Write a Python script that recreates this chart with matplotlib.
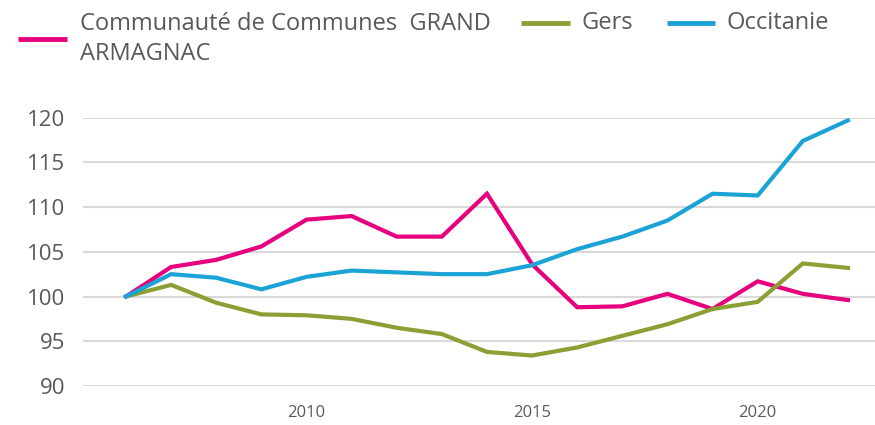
import matplotlib
matplotlib.use("Agg")
import matplotlib.pyplot as plt
from matplotlib.lines import Line2D

plt.rcParams["font.family"] = ["Open Sans", "DejaVu Sans"]

# ── data ──────────────────────────────────────────────────────────────────────
years = list(range(2006, 2023))

cc_grand_armagnac = [100.0, 103.3, 104.1, 105.6, 108.6, 109.0, 106.7, 106.7, 111.5,
                     103.6, 98.8, 98.9, 100.3, 98.6, 101.7, 100.3, 99.6]
gers = [100.0, 101.3, 99.3, 98.0, 97.9, 97.5, 96.5, 95.8, 93.8,
        93.4, 94.3, 95.6, 96.9, 98.6, 99.4, 103.7, 103.2]
occitanie = [100.0, 102.5, 102.1, 100.8, 102.2, 102.9, 102.7, 102.5, 102.5,
             103.5, 105.3, 106.7, 108.5, 111.5, 111.3, 117.4, 119.7]

labels = ["Communauté de Communes  GRAND\nARMAGNAC", "Gers", "Occitanie"]
colors = ["#E6007E", "#8AA034", "#1BA3D6"]

y_ticks = [90, 95, 100, 105, 110, 115, 120]
x_ticks = [2010, 2015, 2020]

TEXT = "#595959"
GRID = "#D9D9D9"

# ── figure ────────────────────────────────────────────────────────────────────
fig = plt.figure(figsize=(8.75, 4.25), dpi=100)
ax = fig.add_axes([0.095, 0.092, 0.905, 0.631])

series = [cc_grand_armagnac, gers, occitanie]
for vals, color, lab in zip(series, colors, labels):
    ax.plot(years, vals, color=color, linewidth=3, label=lab,
            solid_joinstyle="miter", zorder=3)

ax.set_xlim(2005.05, 2022.6)
ax.set_ylim(90, 120)
ax.set_yticks(y_ticks)
ax.set_xticks(x_ticks)
ax.yaxis.grid(True, color=GRID, linewidth=1.5)
ax.set_axisbelow(True)
for s in ax.spines.values():
    s.set_visible(False)
ax.tick_params(axis="y", length=0, pad=13, labelsize=16, labelcolor=TEXT)
ax.tick_params(axis="x", length=0, pad=14, labelsize=12, labelcolor=TEXT)

# ── legend (drawn by hand: first label wraps, others sit on its top line) ─────
# (handle x0, handle x1, handle y, text x, text y) in figure fractions
legend_layout = [
    (0.021, 0.077, 0.909, 0.092, 0.909),
    (0.595, 0.651, 0.946, 0.665, 0.946),
    (0.762, 0.817, 0.946, 0.830, 0.946),
]
for (x0, x1, hy, tx, ty), color, lab in zip(legend_layout, colors, labels):
    fig.add_artist(Line2D([x0, x1], [hy, hy], color=color, linewidth=3.5,
                          transform=fig.transFigure, solid_capstyle="butt"))
    fig.text(tx, ty, lab, color=TEXT, fontsize=17, va="center", ha="left",
             linespacing=1.35)

plt.savefig("out.png", dpi=100)
plt.close()
